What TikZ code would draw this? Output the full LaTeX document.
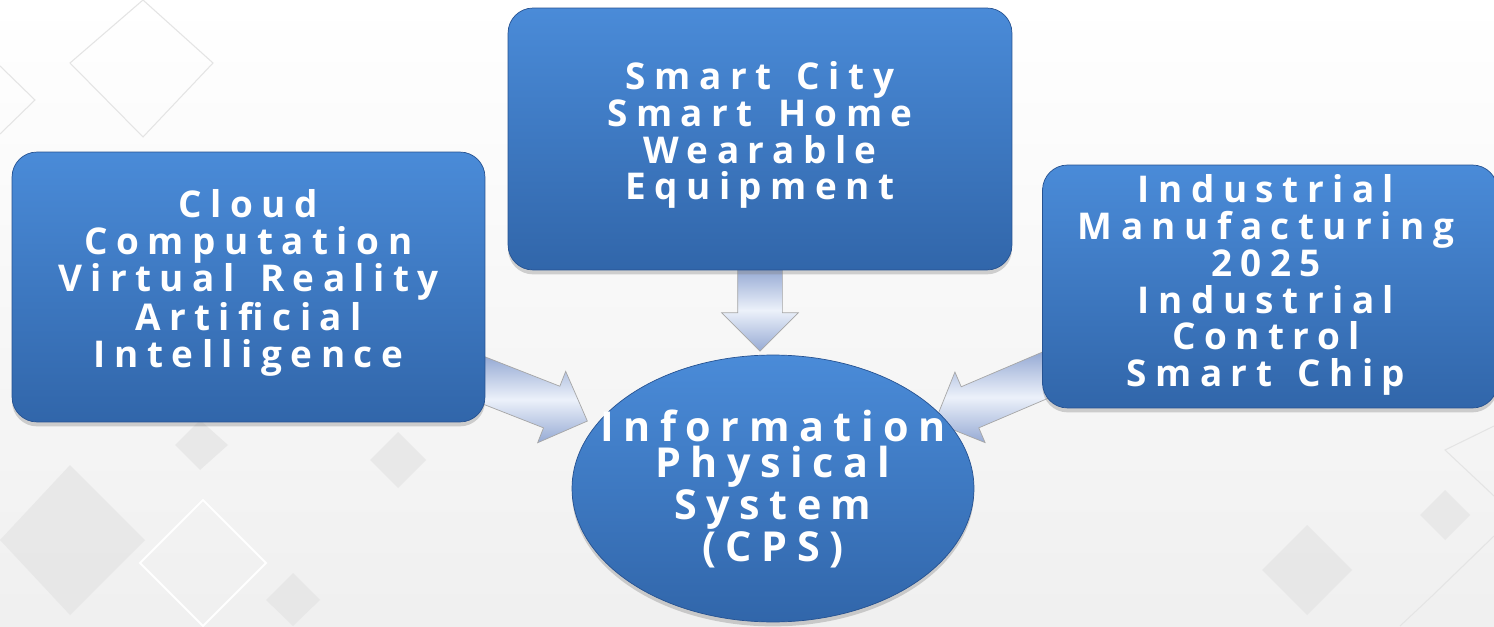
\documentclass[tikz,border=0pt]{standalone}
\usepackage{fontspec}
\setmainfont{Open Sans}
\newfontfamily\widefont{Open Sans}[LetterSpace=23, WordSpace=1.4]
\usepackage{tikz}
\usetikzlibrary{positioning,shapes.geometric,shapes.arrows,shadows,calc}

\definecolor{boxtop}{RGB}{74,139,216}
\definecolor{boxbot}{RGB}{49,102,170}
\definecolor{boxedge}{RGB}{38,82,145}
\definecolor{arrlight}{RGB}{236,241,250}
\definecolor{arrdark}{RGB}{150,170,212}
\definecolor{patgray}{RGB}{228,228,228}

\tikzset{
  topicbox/.style={rectangle, rounded corners=0.5cm, draw=boxedge, thin,
    top color=boxtop, bottom color=boxbot,
    drop shadow={shadow xshift=0pt, shadow yshift=-2.5pt, opacity=0.35}},
  cpsnode/.style={ellipse, draw=boxedge, thin, inner sep=0pt,
    top color=boxtop, bottom color=boxbot,
    minimum width=8.04cm, minimum height=5.34cm,
    drop shadow={shadow xshift=0pt, shadow yshift=-2.5pt, opacity=0.35}},
  boxtext/.style={text=white, align=center, inner sep=0pt,
    font=\widefont\bfseries\fontsize{21}{21}\selectfont},
  cpstext/.style={boxtext, font=\widefont\bfseries\fontsize{23.5}{21}\selectfont},
  flowarrow/.style={single arrow, draw=gray!70, thin, inner sep=0.44cm,
    single arrow head extend=0.32cm, minimum width=1.5cm,
    top color=arrdark, bottom color=arrdark, middle color=arrlight},
  pattern line/.style={draw=patgray, line width=0.6pt},
  pattern fill/.style={fill=patgray, opacity=0.7}
}

\begin{document}
\begin{tikzpicture}[x=0.02cm, y=0.02cm]
    \useasboundingbox (0,0) rectangle (1494,626);

    % Background
    \fill[top color=white, bottom color=black!6] (0,0) rectangle (1494,626);
    \draw[pattern line] (70,563) -- (143,626) -- (213,563) -- (143,489) -- cycle;
    \draw[pattern line] (0,560) -- (35,526) -- (0,492);
    \fill[pattern fill] (0,86) -- (70,161) -- (145,86) -- (70,11) -- cycle;
    \draw[pattern line, draw=white, line width=1.2pt] (140,63) -- (203,126) -- (266,63) -- (203,0) -- cycle;
    \fill[pattern fill] (175,181) -- (200,206) -- (228,181) -- (200,156) -- cycle;
    \fill[pattern fill] (266,26) -- (293,53) -- (320,26) -- (293,0) -- cycle;
    \fill[pattern fill] (370,166) -- (398,194) -- (426,166) -- (398,138) -- cycle;
    \fill[pattern fill] (1262,56) -- (1307,101) -- (1352,56) -- (1307,11) -- cycle;
    \fill[pattern fill] (1420,111) -- (1445,136) -- (1470,111) -- (1445,86) -- cycle;
    \draw[pattern line] (1494,200) -- (1445,176) -- (1494,130);
    \draw[pattern line] (1494,90) -- (1432,30) -- (1400,0);

    % Named anchors for the arrows
    \coordinate (ttail) at (760,368);
    \coordinate (ttip) at (760,286);
    \coordinate (ltail) at (465,253);
    \coordinate (ltip) at (577,209);
    \coordinate (rtail) at (1062,258);
    \coordinate (rtip) at (945,208);

    % Arrows
    \path let \p1=(ttail), \p2=(ttip), \n1={atan2(\y2-\y1,\x2-\x1)},
        \n2={veclen(\x2-\x1,\y2-\y1)} in
        node[flowarrow, rotate=\n1, minimum height=\n2] (tarrow) at ($(ttail)!0.5!(ttip)$) {};
    \path let \p1=(ltail), \p2=(ltip), \n1={atan2(\y2-\y1,\x2-\x1)},
        \n2={veclen(\x2-\x1,\y2-\y1)} in
        node[flowarrow, rotate=\n1, minimum height=\n2] (larrow) at ($(ltail)!0.5!(ltip)$) {};
    \path let \p1=(rtail), \p2=(rtip), \n1={atan2(\y2-\y1,\x2-\x1)},
        \n2={veclen(\x2-\x1,\y2-\y1)} in
        node[flowarrow, rotate=\n1, minimum height=\n2] (rarrow) at ($(rtail)!0.5!(rtip)$) {};

    % Boxes
    \node[topicbox, minimum width=9.46cm, minimum height=5.4cm] (tech) at (248.5,339) {};
    \node[boxtext] (techtext) at (248.5,343) {Cloud\\Computation\\Virtual Reality\\Artificial\\Intelligence};

    \node[topicbox, minimum width=10.08cm, minimum height=5.24cm] (life) at (760,487) {};
    \node[boxtext] (lifetext) at (760,491) {Smart City\\Smart Home\\Wearable\\Equipment};

    \node[topicbox, minimum width=9.1cm, minimum height=4.86cm] (industry) at (1270,339.5) {};
    \node[boxtext] (industrytext) at (1266,341) {Industrial\\Manufacturing\\2025\\Industrial\\Control\\Smart Chip};

    % Centre
    \node[cpsnode] (cps) at (773,137.5) {};
    \node[cpstext] (cpstext) at (cps.center) {Information\\Physical\\System\\(CPS)};
\end{tikzpicture}
\end{document}
